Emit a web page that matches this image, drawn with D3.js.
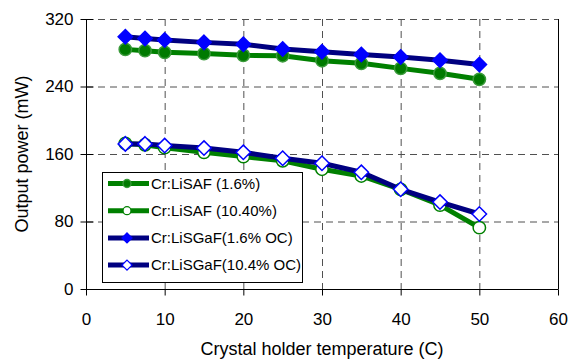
<!DOCTYPE html>
<html><head><meta charset="utf-8">
<script src="https://cdn.jsdelivr.net/npm/d3@7"></script>
<style>body{margin:0;background:#fff;}svg{display:block;font-family:"Liberation Sans",Arial,sans-serif;}</style>
</head><body>
<svg id="c" width="569" height="360"></svg>
<script>
const temps = [5, 7.5, 10, 15, 20, 25, 30, 35, 40, 45, 50];
const lisaf16  = [284, 282.5, 280.5, 279, 277, 276.5, 270.6, 267.5, 261.5, 255.6, 248.5];
const lisaf104 = [172.5, 171, 167.5, 162, 157, 152, 142, 134, 118, 99.5, 72.7];
const lisgaf16 = [299, 297, 295, 292.3, 290, 284.4, 281.3, 278, 275, 271, 266];
const lisgaf104= [172, 172, 170, 167, 162, 155, 149, 138.3, 118.2, 103, 88.9];
const seriesNames = ["Cr:LiSAF (1.6%)", "Cr:LiSAF (10.40%)", "Cr:LiSGaF(1.6% OC)", "Cr:LiSGaF(10.4% OC)"];
const xTicks = [0, 10, 20, 30, 40, 50, 60];
const yTicks = [0, 80, 160, 240, 320];
const xTitle = "Crystal holder temperature (C)";
const yTitle = "Output power (mW)";

const series = [
  {name: seriesNames[0], vals: lisaf16, line: "#008000", marker: "circle", fill: "#007a00", stroke: "#3a9a3a"},
  {name: seriesNames[1], vals: lisaf104, line: "#008000", marker: "circle", fill: "#ffffff", stroke: "#008000"},
  {name: seriesNames[2], vals: lisgaf16, line: "#000080", marker: "diamond", fill: "#0000ff", stroke: "#0000ff"},
  {name: seriesNames[3], vals: lisgaf104, line: "#000080", marker: "diamond", fill: "#ffffff", stroke: "#0000ff"}
];

const L = 86, R = 558, T = 19, B = 289;
const x = d3.scaleLinear().domain([0, 60]).range([L, R]);
const y = d3.scaleLinear().domain([0, 320]).range([B, T]);
const svg = d3.select("#c");

// gridlines
const grid = svg.append("g").attr("stroke", "#505050").attr("stroke-width", 1).attr("stroke-dasharray", "7,5");
xTicks.filter(t => t > 0 && t < 60).forEach(t => {
  grid.append("line").attr("x1", x(t)+0.5).attr("x2", x(t)+0.5).attr("y1", T).attr("y2", B);
});
yTicks.filter(t => t > 0).forEach(t => {
  grid.append("line").attr("x1", L).attr("x2", R).attr("y1", y(t)+0.5).attr("y2", y(t)+0.5);
});
// right border
svg.append("line").attr("x1", R+0.5).attr("x2", R+0.5).attr("y1", T).attr("y2", B).attr("stroke", "#000");

// axes
const xAxis = d3.axisBottom(x).tickValues(xTicks).tickSize(6).tickPadding(17).tickFormat(d3.format("d"));
const gx = svg.append("g").attr("transform", `translate(0,${B+0.5})`).call(xAxis);
gx.select(".domain").attr("d", `M${L},0H${R+0.5}`);
gx.selectAll("text").attr("font-size", 17).attr("fill", "#000").attr("font-family", "Liberation Sans, Arial, sans-serif");

const yAxis = d3.axisLeft(y).tickValues(yTicks).tickSize(0).tickPadding(13);
const gy = svg.append("g").attr("transform", `translate(${L+0.5},0)`).call(yAxis);
gy.select(".domain").attr("d", `M0,${T}V${B}`);
gy.selectAll(".tick line").attr("x1", -6).attr("x2", 7).attr("stroke", "#000");
gy.selectAll("text").attr("font-size", 17).attr("fill", "#000").attr("font-family", "Liberation Sans, Arial, sans-serif");

// titles
svg.append("text").attr("x", (L+R)/2).attr("y", 355).attr("text-anchor", "middle")
  .attr("font-size", 18).text(xTitle);
svg.append("text").attr("transform", `translate(28,${(T+B)/2}) rotate(-90)`).attr("text-anchor", "middle")
  .attr("font-size", 18).text(yTitle);

// series
const line = d3.line().x((d,i) => x(temps[i])).y(d => y(d));
function drawMarker(g, type, cx, cy, s, fill, stroke, sw) {
  if (type === "circle") {
    g.append("circle").attr("cx", cx).attr("cy", cy).attr("r", s).attr("fill", fill).attr("stroke", stroke).attr("stroke-width", sw);
  } else {
    g.append("path").attr("d", `M${cx},${cy-s}L${cx+s},${cy}L${cx},${cy+s}L${cx-s},${cy}Z`)
      .attr("fill", fill).attr("stroke", stroke).attr("stroke-width", sw);
  }
}
series.forEach(s => {
  const g = svg.append("g");
  g.append("path").attr("d", line(s.vals)).attr("fill", "none").attr("stroke", s.line).attr("stroke-width", 5).attr("stroke-linejoin", "round");
  s.vals.forEach((v, i) => {
    if (s.marker === "circle") drawMarker(g, "circle", x(temps[i]), y(v), 6.2, s.fill, s.stroke, 1.5);
    else drawMarker(g, "diamond", x(temps[i]), y(v), 7.2, s.fill, s.stroke, 1.5);
  });
});

// legend
const lg = svg.append("g");
lg.append("rect").attr("x", 102.5).attr("y", 172.5).attr("width", 200).attr("height", 110).attr("fill", "#fff").attr("stroke", "#000");
series.forEach((s, i) => {
  const cy = 183.5 + i * 27.2;
  lg.append("line").attr("x1", 108).attr("x2", 149).attr("y1", cy).attr("y2", cy).attr("stroke", s.line).attr("stroke-width", 5);
  if (s.marker === "circle") drawMarker(lg, "circle", 127, cy, 4, s.fill, s.stroke, 1.3);
  else drawMarker(lg, "diamond", 127, cy, 5, s.fill, s.stroke, 1.3);
  lg.append("text").attr("x", 151).attr("y", cy).attr("dy", "0.35em").attr("font-size", 15).text(s.name);
});
</script>
</body></html>
